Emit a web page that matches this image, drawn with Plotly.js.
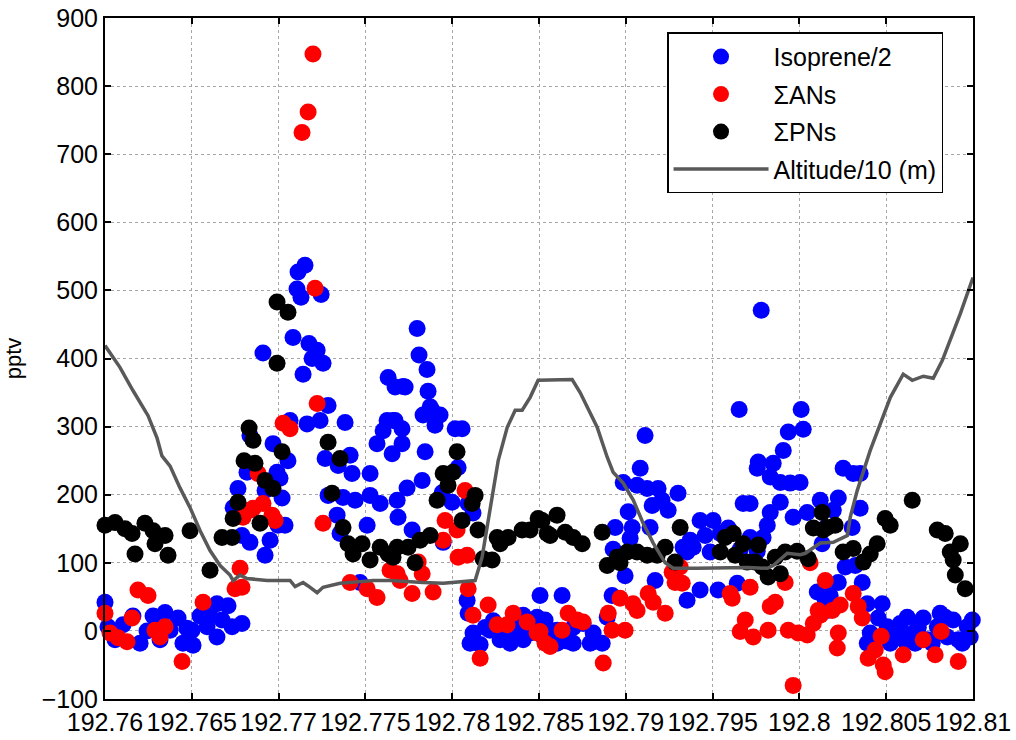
<!DOCTYPE html>
<html>
<head>
<meta charset="utf-8">
<script src="https://cdn.plot.ly/plotly-3.0.1.min.js"></script>
<style>html,body{margin:0;padding:0;background:#fff;}#chart{width:1016px;height:740px;}</style>
</head>
<body>
<div id="chart"></div>
<script>
// Isoprene/2 (blue)
const isoX = [192.76000,192.76017,192.76058,192.76104,192.76161,192.76202,192.76242,192.76277,192.76317,192.76346,192.76375,192.76421,192.76449,192.76472,192.76501,192.76507,192.76547,192.76588,192.76605,192.76645,192.76645,192.76674,192.76709,192.76732,192.76789,
192.76738,192.76766,192.76778,192.76789,192.76818,192.76835,192.76835,192.76910,192.76922,192.76922,192.76951,192.76968,192.76991,192.76997,192.77008,192.77020,192.77037,192.77054,192.77066,192.77083,192.77106,192.77112,192.77129,192.77141,192.77152,192.77164,192.77175,192.77193,192.77222,192.77239,192.77245,192.77256,192.77268,192.77285,192.77285,
192.77337,192.77343,192.77354,192.77371,192.77383,192.77412,192.77423,192.77441,192.77469,192.77510,192.77527,192.77527,192.77567,192.77585,192.77602,192.77625,192.77631,192.77654,192.77659,192.77671,192.77671,192.77683,192.77688,192.77711,192.77711,192.77717,192.77729,192.77740,192.77769,192.77798,192.77809,192.77827,192.77832,192.77844,192.77855,192.77861,192.77873,192.77884,192.77901,192.77930,192.77942,192.77948,
192.77999,192.78017,192.78034,192.78057,192.78086,192.78092,192.78092,192.78103,192.78120,192.78120,192.78161,192.78190,192.78218,192.78236,192.78276,192.78305,192.78334,192.78362,192.78391,192.78409,192.78409,192.78449,192.78489,192.78506,192.78524,192.78535,192.78547,192.78581,192.78604,192.78604,192.78633,192.78662,192.78697,192.78697,192.78754,192.78795,192.78812,192.78864,192.78893,
192.78921,192.78927,192.78939,192.78985,192.78996,192.79014,192.79025,192.79037,192.79065,192.79083,192.79111,192.79123,192.79140,192.79152,192.79169,192.79186,192.79209,192.79244,192.79301,192.79330,192.79353,192.79353,192.79371,192.79388,192.79428,192.79428,192.79457,192.79486,192.79503,192.79532,192.79544,192.79590,192.79642,192.79653,192.79659,192.79676,192.79716,192.79716,192.79757,192.79757,192.79763,192.79780,192.79791,192.79815,192.79832,192.79832,192.79849,192.79890,192.79890,192.79907,192.79936,192.79947,192.79964,192.80004,192.80010,192.80022,192.80045,
192.80103,192.80120,192.80131,192.80149,192.80149,192.80160,192.80177,192.80195,192.80224,192.80224,192.80252,192.80264,192.80304,192.80310,192.80322,192.80350,192.80350,192.80362,192.80391,192.80391,192.80408,192.80454,192.80477,192.80506,192.80523,192.80540,192.80569,192.80581,192.80610,192.80621,192.80656,192.80667,192.80685,192.80713,192.80736,192.80765,192.80794,192.80811,192.80840,192.80852,192.80886,192.80915,192.80938,192.80967,192.80984,192.80996];
const isoY = [42,6,-13,9,22,-18,0,22,-13,27,1,19,-18,4,1,-21,22,6,22,40,-9,16,37,6,11,
181,209,177,140,233,130,287,408,111,206,133,275,233,155,224,195,155,250,309,431,502,527,490,377,537,304,422,400,412,309,494,393,253,331,199,
170,243,143,196,306,258,231,192,71,155,231,199,275,187,294,309,372,260,309,309,358,192,167,297,275,359,358,210,148,444,405,221,317,263,384,352,329,324,302,317,203,130,
189,297,240,297,45,26,187,-18,173,-3,-20,5,1,15,-13,0,-18,-10,5,-13,23,-3,20,52,-9,16,-15,0,1,-18,52,-15,-18,5,11,-18,-3,-18,20,
52,120,152,218,81,175,136,152,214,239,287,209,152,184,74,209,192,177,202,123,45,116,133,123,162,60,140,116,162,60,143,151,70,325,120,187,187,137,239,117,248,471,137,155,226,174,246,218,189,265,292,217,167,218,325,296,174,
57,192,128,151,45,30,52,177,195,71,239,94,152,231,96,231,180,71,40,-18,-3,19,40,6,-18,-13,-5,11,-15,20,-3,-18,5,19,-13,-18,6,26,20,-9,16,-13,-18,6,-9,16];

// ΣANs (red)
const anX = [192.76000,192.76029,192.76075,192.76127,192.76156,192.76190,192.76248,192.76288,192.76317,192.76346,192.76444,192.76565,192.76749,192.76778,192.76789,192.76795,192.76835,192.76853,192.76882,192.76910,192.76962,192.76980,192.77026,192.77066,192.77135,192.77170,192.77198,192.77210,192.77222,192.77256,
192.77412,192.77510,192.77567,192.77642,192.77683,192.77700,192.77769,192.77804,192.77827,192.77890,192.77948,192.77959,192.78028,192.78034,192.78074,192.78086,192.78092,192.78120,192.78161,192.78207,192.78259,192.78316,192.78351,192.78432,192.78489,192.78506,192.78535,192.78564,192.78633,192.78668,192.78720,192.78754,192.78870,192.78899,192.78921,192.78967,192.78996,192.79042,192.79065,192.79129,192.79158,192.79227,192.79267,192.79284,192.79313,192.79325,
192.79601,192.79613,192.79659,192.79688,192.79716,192.79734,192.79820,192.79832,192.79861,192.79918,192.79936,192.79964,192.79993,192.80045,192.80062,192.80080,192.80108,192.80120,192.80149,192.80189,192.80218,192.80224,192.80235,192.80310,192.80339,192.80362,192.80396,192.80437,192.80471,192.80483,192.80494,192.80598,192.80713,192.80782,192.80817,192.80915];
const anY = [26,-3,-10,-16,19,60,52,1,-9,6,-45,42,62,92,64,167,177,180,231,187,170,162,305,297,732,762,847,503,334,158,
71,62,49,89,84,74,55,101,84,57,133,162,148,108,206,111,62,23,-40,38,9,9,26,13,-3,-1,-18,-23,1,26,16,13,-47,26,1,48,1,40,30,55,42,26,86,71,94,70,
55,48,-1,16,64,-9,1,36,42,71,1,-80,-3,-6,100,11,30,23,74,30,-25,-3,38,55,36,19,-40,-28,-8,-50,-60,-35,-13,-35,-1,-45];

// ΣPNs (black)
const pnX = [192.76000,192.76058,192.76115,192.76156,192.76173,192.76230,192.76277,192.76288,192.76346,192.76363,192.76490,192.76605,192.76674,192.76732,192.76738,192.76766,192.76801,192.76830,192.76853,192.76864,192.76893,192.76922,192.76968,192.76991,192.76991,192.77020,192.77054,
192.77285,192.77308,192.77354,192.77371,192.77400,192.77429,192.77481,192.77527,192.77585,192.77631,192.77659,192.77683,192.77746,192.77786,192.77815,192.77873,192.77913,192.77948,192.77976,192.78005,192.78028,192.78057,192.78115,192.78132,192.78149,192.78178,192.78230,192.78259,192.78276,192.78322,192.78403,192.78449,192.78495,192.78518,192.78547,192.78564,192.78604,192.78651,192.78697,192.78749,
192.78864,192.78893,192.78950,192.78967,192.79008,192.79065,192.79123,192.79181,192.79227,192.79284,192.79313,192.79544,192.79572,192.79619,192.79630,192.79676,192.79699,192.79745,192.79763,192.79786,192.79820,192.79861,192.79890,192.79918,192.79987,192.80051,192.80080,192.80131,192.80137,192.80160,192.80206,192.80252,192.80310,192.80368,192.80408,192.80448,192.80494,192.80523,192.80650,192.80794,192.80840,192.80869,192.80886,192.80898,192.80927,192.80955,192.81001];
const pnY = [155,159,150,143,113,158,147,128,140,111,147,89,137,137,165,189,250,298,280,246,158,221,209,483,393,263,468,
277,202,253,152,128,113,128,104,123,113,108,123,123,100,133,140,192,231,214,233,263,162,187,199,148,106,104,137,128,137,148,148,165,162,143,140,170,145,137,128,
145,96,108,100,116,116,111,111,123,101,152,116,137,143,111,128,101,101,126,94,79,108,84,116,117,106,151,174,148,152,155,116,121,101,113,128,165,155,192,148,143,116,104,82,128,62,82];

// Altitude/10 (m)
const altX = [192.76000,192.76086,192.76161,192.76248,192.76300,192.76328,192.76375,192.76432,192.76490,192.76548,192.76605,192.76663,192.76720,192.76738,192.76778,192.76818,192.76934,192.77066,192.77095,192.77141,192.77170,192.77222,192.77256,192.77354,192.77452,192.77544,192.77642,192.77740,192.77832,192.77948,192.78028,192.78103,192.78132,
192.78172,192.78219,192.78265,192.78317,192.78363,192.78403,192.78449,192.78495,192.78605,192.78691,192.78737,192.78835,192.78893,192.78927,192.78985,192.79043,192.79100,192.79158,192.79227,192.79273,192.79411,192.79544,192.79699,192.79815,192.79849,192.79930,192.80005,192.80034,192.80120,192.80195,192.80276,192.80293,192.80333,192.80408,192.80466,192.80524,192.80598,192.80650,192.80714,192.80771,192.80823,192.80852,192.80927,192.81000];
const altY = [419,387,353,316,283,257,242,210,181,147,118,96,82,74,82,77,74,74,65,71,66,56,64,70,72,74,74,72,71,70,72,74,74,
108,181,250,299,324,324,343,368,368,369,350,299,255,233,217,192,158,129,100,92,92,93,93,92,96,114,112,114,129,130,140,167,206,265,305,343,377,368,374,371,397,416,466,519];

const xTickVals = [192.76,192.765,192.77,192.775,192.78,192.785,192.79,192.795,192.8,192.805,192.81];
const xTickText = ['192.76','192.765','192.77','192.775','192.78','192.785','192.79','192.795','192.8','192.805','192.81'];

const FONT = 'Liberation Sans, Arial, sans-serif';
const msize = 17;

const traces = [
  {x: isoX, y: isoY, type: 'scatter', mode: 'markers', name: 'Isoprene/2', legendgroup: 'a',
   marker: {color: '#0000FF', size: msize}, cliponaxis: false},
  {x: anX, y: anY, type: 'scatter', mode: 'markers', name: '\u03A3ANs', legendgroup: 'b',
   marker: {color: '#FF0000', size: msize}, cliponaxis: false},
  {x: pnX, y: pnY, type: 'scatter', mode: 'markers', name: '\u03A3PNs', legendgroup: 'c',
   marker: {color: '#000000', size: msize}, cliponaxis: false},
  {x: altX, y: altY, type: 'scatter', mode: 'lines', name: 'Altitude/10 (m)', legendgroup: 'd',
   line: {color: '#595959', width: 3.5}}
];

const axisCommon = {
  showline: true, linecolor: '#000', linewidth: 2, mirror: 'ticks',
  ticks: 'inside', ticklen: 6, tickwidth: 2, tickcolor: '#000',
  showgrid: true, gridcolor: '#a6a6a6', griddash: 'dot', gridwidth: 1,
  zeroline: false, tickfont: {family: FONT, size: 25, color: '#000'}
};

const layout = {
  width: 1016, height: 740,
  margin: {l: 105, r: 43, t: 18, b: 41},
  paper_bgcolor: '#fff', plot_bgcolor: '#fff',
  font: {family: FONT, color: '#000'},
  xaxis: Object.assign({}, axisCommon, {range: [192.76, 192.81], tickvals: xTickVals, ticktext: xTickText}),
  yaxis: Object.assign({}, axisCommon, {range: [-100, 900], dtick: 100, tick0: 0,
    title: {text: 'pptv', font: {family: FONT, size: 22, color: '#000'}, standoff: 14}}),
  legend: {x: 0.6475, y: 0.979, xanchor: 'left', yanchor: 'top',
    bgcolor: '#fff', bordercolor: '#000', borderwidth: 1.5,
    font: {family: FONT, size: 25, color: '#000'},
    traceorder: 'grouped', tracegroupgap: 2, itemwidth: 95, itemsizing: 'trace'},
  showlegend: true
};

Plotly.newPlot('chart', traces, layout, {displayModeBar: false, staticPlot: true});
</script>
</body>
</html>
